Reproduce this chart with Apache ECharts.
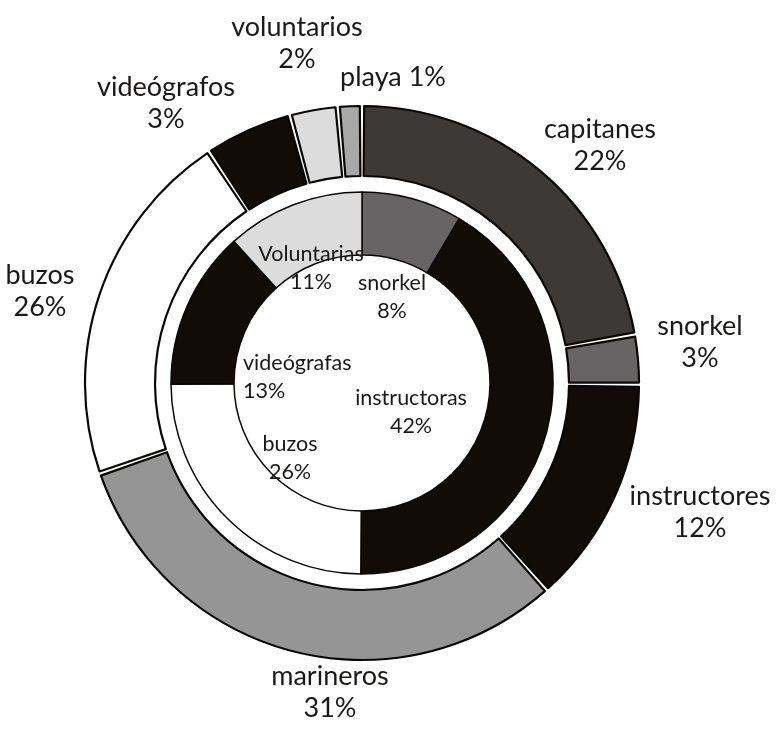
<!DOCTYPE html>
<html>
<head>
<meta charset="utf-8">
<script src="https://cdn.jsdelivr.net/npm/echarts@6/dist/echarts.min.js"></script>
<style>
html,body{margin:0;padding:0;background:#fff;}
#chart{width:776px;height:732px;}
</style>
</head>
<body>
<div id="chart"></div>
<script>
// ---- data ----
const outerNames = ['capitanes', 'snorkel', 'instructores', 'marineros', 'buzos', 'videógrafos', 'voluntarios', 'playa'];
const outerValues = [22.2, 2.9, 13.3, 31.3, 21.0, 5.1, 2.8, 1.4];
const outerPct = ['22%', '3%', '12%', '31%', '26%', '3%', '2%', '1%'];

const innerNames = ['snorkel', 'instructoras', 'buzos', 'videógrafas', 'Voluntarias'];
const innerValues = [8.5, 41.6, 24.8, 13.4, 11.7];
const innerPct = ['8%', '42%', '26%', '13%', '11%'];

// ---- styles / layout ----
const outerColors = ['#3d3936', '#666464', '#120c07', '#959595', '#ffffff', '#120c07', '#dcdcdc', '#a8a8a8'];
const innerColors = ['#666464', '#120c07', '#ffffff', '#120c07', '#dcdcdc'];
const outerLabelPos = [[600, 145], [700, 342], [700, 512], [330, 692], [40, 291], [166, 103], [297, 43], [393, 77]];
const outerSingleLine = [false, false, false, false, false, false, false, true];
const innerLabelPos = [[392, 297], [411, 412], [290, 458], [243, 377], [311, 268]];
const innerLabelAlign = ['center', 'center', 'center', 'left', 'center'];

const FONT = 'Lato, "Open Sans", sans-serif';
const TEXT = '#1b1918';

const chart = echarts.init(document.getElementById('chart'));
chart.setOption({
  backgroundColor: '#ffffff',
  animation: false,
  series: [
    {
      name: 'outer',
      type: 'pie',
      center: [362, 383],
      radius: [207, 277],
      startAngle: 90,
      clockwise: true,
      padAngle: 0.9,
      avoidLabelOverlap: false,
      itemStyle: { borderColor: '#0a0805', borderWidth: 2.2 },
      label: {
        show: true,
        position: 'inside',
        fontFamily: FONT,
        fontSize: 27,
        lineHeight: 32,
        color: TEXT,
        formatter: p => outerSingleLine[p.dataIndex]
          ? p.name + ' ' + outerPct[p.dataIndex]
          : p.name + '\n' + outerPct[p.dataIndex]
      },
      labelLine: { show: false },
      labelLayout: p => ({
        x: outerLabelPos[p.dataIndex][0],
        y: outerLabelPos[p.dataIndex][1],
        align: 'center',
        verticalAlign: 'middle'
      }),
      emphasis: { disabled: true },
      data: outerNames.map((n, i) => ({ name: n, value: outerValues[i], itemStyle: { color: outerColors[i] } }))
    },
    {
      name: 'inner',
      type: 'pie',
      center: [362, 383],
      radius: [128, 191],
      startAngle: 90,
      clockwise: true,
      avoidLabelOverlap: false,
      itemStyle: { borderColor: '#0a0805', borderWidth: 1.5 },
      label: {
        show: true,
        position: 'inside',
        fontFamily: FONT,
        fontSize: 21.5,
        lineHeight: 28,
        color: TEXT,
        formatter: p => p.name + '\n' + innerPct[p.dataIndex]
      },
      labelLine: { show: false },
      labelLayout: p => ({
        x: innerLabelPos[p.dataIndex][0],
        y: innerLabelPos[p.dataIndex][1],
        align: innerLabelAlign[p.dataIndex],
        verticalAlign: 'middle'
      }),
      emphasis: { disabled: true },
      data: innerNames.map((n, i) => ({ name: n, value: innerValues[i], itemStyle: { color: innerColors[i] } }))
    }
  ]
});
</script>
</body>
</html>
